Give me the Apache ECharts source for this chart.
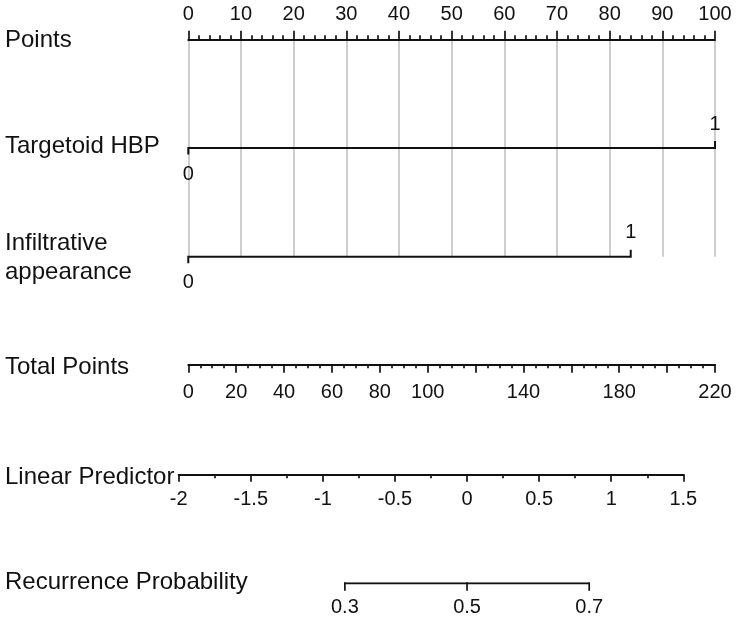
<!DOCTYPE html>
<html>
<head>
<meta charset="utf-8">
<script src="https://cdn.jsdelivr.net/npm/echarts@6/dist/echarts.min.js"></script>
<style>
html,body{margin:0;padding:0;background:#fff;}
#chart{width:738px;height:622px;}
</style>
</head>
<body>
<div id="chart"></div>
<script>
// ---- data ----
const rowLabels = ['Points', 'Targetoid HBP', 'Infiltrative\nappearance', 'Total Points', 'Linear Predictor', 'Recurrence Probability'];
const predictorNames = ['Targetoid HBP', 'Infiltrative appearance'];
const predictorLevels = [['0', '1'], ['0', '1']];
const predictorPoints = [[0, 100], [0, 84]];
const pointsRange = [0, 100];
const totalPointsRange = [0, 220];
const totalPointsLabels = [0, 20, 40, 60, 80, 100, 140, 180, 220];
const linearPredictorRange = [-2, 1.5];
const probabilityTicks = [0.3, 0.5, 0.7];
const probabilityLabels = ['0.3', '0.5', '0.7'];

// ---- chart ----
const FONT = 'Liberation Sans, Arial, Helvetica, sans-serif';
const BLACK = '#111';
const TICK_FS = 20;
const logit = p => Math.log(p / (1 - p));
const chart = echarts.init(document.getElementById('chart'), null, {renderer: 'canvas'});

const labelY = [40, 146, 243.5, 367, 477.5, 582.5];
const graphicTexts = rowLabels.map((t, i) => ({
  type: 'text', x: 5, y: labelY[i],
  style: {text: t, fill: BLACK, fontSize: 24, fontFamily: FONT, verticalAlign: 'middle', lineHeight: 29}
}));
// two-line label: shift so first line centre is at labelY
graphicTexts[2].y = labelY[2] + 14.5;

const tickStyle = {color: BLACK, width: 1.7};
const axLine = {show: true, lineStyle: {color: BLACK, width: 2}};
const lblStyle = {color: BLACK, fontSize: TICK_FS, fontFamily: FONT};

const option = {
  animation: false,
  backgroundColor: '#fff',
  graphic: graphicTexts,
  grid: [
    {left: 188.3, right: 23, top: 39.3, height: 217.4},
    {left: 188.3, right: 23, top: 362.3, height: 2},
    {left: 178.7, right: 54.7, top: 472.3, height: 2},
    {left: 178.7, right: 54.7, top: 583.3, height: 2}
  ],
  xAxis: [
    {
      gridIndex: 0, type: 'value', position: 'top', min: pointsRange[0], max: pointsRange[1], interval: 10,
      axisLine: axLine,
      axisTick: {show: true, length: 8.5, lineStyle: tickStyle},
      minorTick: {show: true, splitNumber: 5, length: 4, lineStyle: tickStyle},
      axisLabel: Object.assign({margin: 15}, lblStyle),
      splitLine: {show: true, lineStyle: {color: '#c2c2c2', width: 1.6}}
    },
    {
      gridIndex: 1, type: 'value', position: 'bottom', min: totalPointsRange[0], max: totalPointsRange[1], interval: 20,
      axisLine: axLine,
      axisTick: {show: true, length: 8.5, lineStyle: tickStyle},
      minorTick: {show: true, splitNumber: 4, length: 4, lineStyle: tickStyle},
      axisLabel: Object.assign({margin: 18, formatter: v => totalPointsLabels.indexOf(v) >= 0 ? String(v) : ''}, lblStyle),
      splitLine: {show: false}
    },
    {
      gridIndex: 2, type: 'value', position: 'bottom', min: linearPredictorRange[0], max: linearPredictorRange[1], interval: 0.5,
      axisLine: axLine,
      axisTick: {show: true, length: 7.5, lineStyle: tickStyle},
      minorTick: {show: true, splitNumber: 2, length: 4, lineStyle: tickStyle},
      axisLabel: Object.assign({margin: 15}, lblStyle),
      splitLine: {show: false}
    },
    {
      gridIndex: 3, type: 'value', min: linearPredictorRange[0], max: linearPredictorRange[1], show: false
    }
  ],
  yAxis: [
    {gridIndex: 0, type: 'value', min: 0, max: 2, inverse: true, show: false},
    {gridIndex: 1, type: 'value', min: 0, max: 1, show: false},
    {gridIndex: 2, type: 'value', min: 0, max: 1, show: false},
    {gridIndex: 3, type: 'value', min: 0, max: 1, show: false}
  ],
  series: [
    {
      name: 'predictors', type: 'custom', xAxisIndex: 0, yAxisIndex: 0, silent: true,
      data: predictorPoints.map((p, i) => [i + 1, p[0], p[1]]),
      renderItem: function (params, api) {
        const row = api.value(0);
        const a = api.coord([api.value(1), row]);
        const b = api.coord([api.value(2), row]);
        const lv = predictorLevels[params.dataIndex];
        return {
          type: 'group',
          children: [
            {type: 'polyline', shape: {points: [[a[0], a[1] + 6.5], [a[0], a[1]], [b[0], b[1]], [b[0], b[1] - 7]]},
             style: {stroke: BLACK, lineWidth: 2, fill: null}},
            {type: 'text', x: a[0], y: a[1] + 26,
             style: {text: lv[0], fill: BLACK, fontSize: TICK_FS, fontFamily: FONT, align: 'center', verticalAlign: 'middle'}},
            {type: 'text', x: b[0], y: b[1] - 24,
             style: {text: lv[1], fill: BLACK, fontSize: TICK_FS, fontFamily: FONT, align: 'center', verticalAlign: 'middle'}}
          ]
        };
      }
    },
    {
      name: 'probBase', type: 'line', xAxisIndex: 3, yAxisIndex: 3, silent: true, symbol: 'none',
      lineStyle: {color: BLACK, width: 2},
      data: [[logit(probabilityTicks[0]), 1], [logit(probabilityTicks[probabilityTicks.length - 1]), 1]]
    },
    {
      name: 'probTicks', type: 'custom', xAxisIndex: 3, yAxisIndex: 3, silent: true,
      data: probabilityTicks.map(p => [logit(p), 1]),
      renderItem: function (params, api) {
        const c = api.coord([api.value(0), api.value(1)]);
        return {
          type: 'group',
          children: [
            {type: 'line', shape: {x1: c[0], y1: c[1] - 1, x2: c[0], y2: c[1] + 7.5}, style: {stroke: BLACK, lineWidth: 1.7}},
            {type: 'text', x: c[0], y: c[1] + 24,
             style: {text: probabilityLabels[params.dataIndex], fill: BLACK, fontSize: TICK_FS, fontFamily: FONT, align: 'center', verticalAlign: 'middle'}}
          ]
        };
      }
    }
  ]
};
chart.setOption(option);
</script>
</body>
</html>
